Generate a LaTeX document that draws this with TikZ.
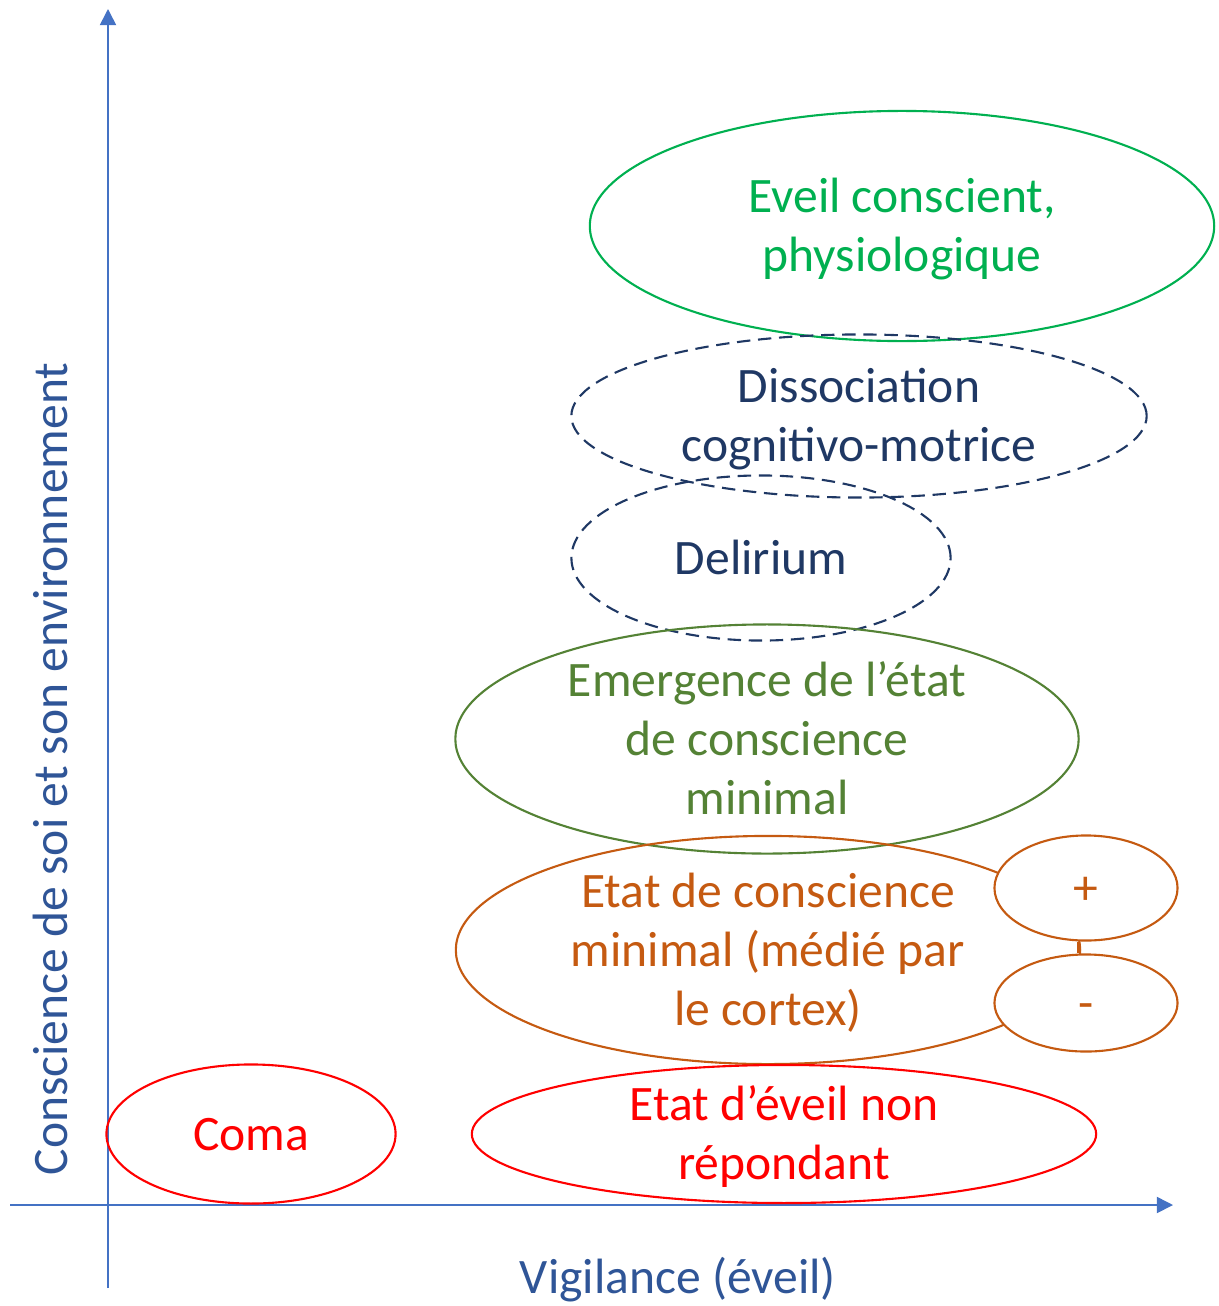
\documentclass[tikz,border=0pt]{standalone}
\usepackage{fontspec}
\setmainfont{Carlito}
\usepackage{tikz}
\usetikzlibrary{shapes.geometric}
\usetikzlibrary{arrows.meta}
\definecolor{axe}{HTML}{4472C4}
\definecolor{titre}{HTML}{2F5597}
\definecolor{vertvif}{HTML}{00B050}
\definecolor{marine}{HTML}{1F3864}
\definecolor{olive}{HTML}{548235}
\definecolor{orange}{HTML}{C55A11}
\definecolor{rouge}{HTML}{FF0000}
\newcommand{\texte}[1]{\raisebox{-4.9pt}[0pt][0pt]{\begin{tabular}{@{}c@{}}#1\end{tabular}}}
\tikzset{
    etat/.style={ellipse, draw, line width=0.6pt, inner sep=0pt,
        font=\fontsize{14.1}{16.8}\selectfont},
    etatpointille/.style={etat, dash pattern=on 3.8pt off 2.2pt},
    signe/.style={etat, draw=orange, text=orange, fill=white},
    fleche/.style={axe, line width=0.45pt, -{Triangle[length=4.6pt,width=4.6pt]}},
}

\begin{document}
\begin{tikzpicture}[x=0.01cm,y=-0.01cm]
            \useasboundingbox (0,0) rectangle (1218,1306);
            \coordinate (Ybas) at (108,1288);
            \coordinate (Yhaut) at (108,9);
            \coordinate (Xgauche) at (10,1205);
            \coordinate (Xdroite) at (1173,1205);
            \draw[fleche] (Ybas) -- (Yhaut);
            \draw[fleche] (Xgauche) -- (Xdroite);

            \node[etat, draw=vertvif, text=vertvif, minimum width=6.24cm, minimum height=2.30cm] (eveil) at (902,226) {\texte{Eveil conscient,\\physiologique}};
            \node[etatpointille, draw=marine, text=marine, minimum width=5.75cm, minimum height=1.63cm] (dissociation) at (859,416) {\texte{Dissociation\\cognitivo-motrice}};
            \node[etatpointille, draw=marine, text=marine, minimum width=3.79cm, minimum height=1.65cm] (delirium) at (761,558) {\texte{Delirium}};
            \node[etat, draw=olive, text=olive, minimum width=6.23cm, minimum height=2.29cm] (emergence) at (767,739) {\texte{Emergence de l’état\\de conscience\\minimal}};
            \node[etat, draw=orange, text=orange, minimum width=6.24cm, minimum height=2.28cm] (mcs) at (768,950) {\texte{Etat de conscience\\minimal (médié par\\le cortex)}};
            \node[signe, minimum width=1.83cm, minimum height=1.05cm] (plus) at (1086,888) {\texte{+}};
            \node[signe, minimum width=1.83cm, minimum height=0.97cm] (moins) at (1086,1003) {\texte{-}};
            \draw[orange, line width=0.6pt] ([xshift=-0.08cm]plus.south) -- ([xshift=-0.08cm]moins.north);
            \node[etat, draw=rouge, text=rouge, minimum width=2.89cm, minimum height=1.39cm] (coma) at (251,1134) {\texte{Coma}};
            \node[etat, draw=rouge, text=rouge, minimum width=6.24cm, minimum height=1.38cm] (evnr) at (784,1134) {\texte{Etat d’éveil non\\répondant}};

            \node[titre, font=\fontsize{14.1}{16.8}\selectfont] (vigilance) at (678,1280) {Vigilance (éveil)};
            \node[titre, rotate=90, font=\fontsize{14.1}{16.8}\selectfont] (conscience) at (50,769) {Conscience de soi et son environnement};
        \end{tikzpicture}
\end{document}
